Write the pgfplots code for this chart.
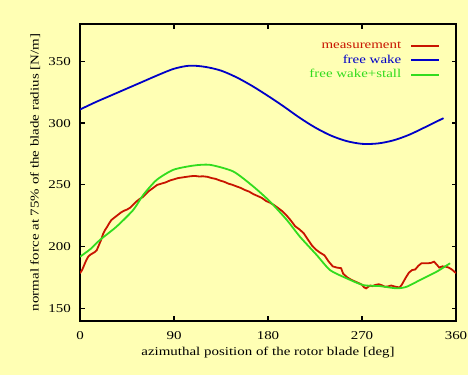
\documentclass[border=0pt]{standalone}
\usepackage{fontspec}
\setmainfont{Liberation Serif}[FakeStretch=1.25]
\usepackage{pgfplots}
\pgfplotsset{compat=1.18}
\definecolor{bg}{RGB}{255,255,180}
\definecolor{mred}{RGB}{200,20,0}
\definecolor{mblue}{RGB}{0,0,200}
\definecolor{mgreen}{RGB}{50,220,30}
\begin{document}
\fontsize{12}{14}\selectfont
\begin{tikzpicture}
\fill[bg] (0,0) rectangle (468bp,375bp);
\path[use as bounding box] (0,0) rectangle (468bp,375bp);
\begin{axis}[
  at={(80bp,54.3bp)}, anchor=south west,
  scale only axis, width=376bp, height=296.4bp,
  xmin=0, xmax=360, ymin=140, ymax=380,
  xtick={0,90,180,270,360}, ytick={150,200,250,300,350},
  tick align=inside, major tick length=4.5bp,
  axis line style={line width=1.6bp},
  every tick/.style={line width=1.2bp, black},
  /pgf/number format/assume math mode=true,
  ticklabel style={font=\fontsize{12}{14}\selectfont},
  label style={font=\fontsize{12}{14}\selectfont},
  xticklabel style={yshift=-7bp},
  yticklabel style={xshift=-5bp},
  xlabel={azimuthal position of the rotor blade [deg]},
  ylabel={normal force at 75\%  of the blade radius [N/m]},
  xlabel style={yshift=1bp},
  ylabel style={yshift=0bp},
  legend style={draw=none, fill=none, at={(0.966,0.955)}, anchor=north east,
    row sep=0.5bp, font=\fontsize{12}{14}\selectfont,
    /tikz/every odd column/.style={column sep=7bp}},
  legend cell align=right, legend plot pos=right,
  legend image code/.code={\draw[#1] plot coordinates {(0bp,0bp) (14bp,0bp) (28bp,0bp)};},
]
\addplot[mred, line width=1.8bp] coordinates {
(0,178.4)(2,181)(4,185)(6,189)(8,192)(10,193.5)(12,194.5)(14,195.5)(16,197)(18,201)
(20,205)(22,210)(24,213.5)(26,216)(28,219)(30,221.5)(33,223.5)(36,225.5)(39,227.5)(42,229)
(45,230)(48,231.5)(51,234)(54,236.5)(57,238.5)(60,240)(63,242.5)(66,245)(70,247.5)(74,250)
(78,251)(82,252)(86,253.5)(90,254.5)(94,255.5)(98,256)(102,256.5)(106,257)(110,257.2)(114,256.8)
(118,256.9)(122,256.5)(126,255.5)(130,254.8)(134,253.5)(138,252.5)(142,251)(146,250)(150,248.7)(154,247.5)
(158,245.8)(162,244.5)(166,242.5)(170,241)(174,239.5)(178,237)(182,235.5)(186,233.5)(190,231)(194,228.5)
(198,225)(202,221)(206,216.5)(210,214)(214,211)(218,206)(222,201)(226,197.5)(230,195)(234,193)
(238,188)(242,184)(246,183)(250,182.5)(252,178)(256,175)(260,173)(264,171.5)(268,170)(270,169)
(272,167)(274,166.2)(276,167.5)(278,168.5)(280,168)(283,169)(286,169.5)(289,168.7)(292,167.5)(295,167.8)
(298,168.5)(300,168)(303,167.3)(306,167)(308,169)(310,172)(312,175)(315,179)(318,181)(321,181.5)
(324,184.5)(327,186.5)(330,186.5)(333,186.5)(336,186.8)(339,187.8)(342,185)(344,183)(347,184)(350,183.8)
(353,183)(356,181.5)(360,178.5)
};
\addlegendentry{\textcolor{mred}{measurement}}
\addplot[mblue, line width=1.8bp, smooth] coordinates {
(0,311)(15,317)(30,322.5)(45,328)(60,333.5)(75,339)(90,344)(105,346.5)(120,345.5)(135,342.5)
(150,337)(165,330)(180,322)(195,313.5)(210,304.5)(225,296.5)(240,290)(255,285.5)(270,283.2)(285,283.5)
(300,286)(315,290.5)(330,296.5)(348,304)
};
\addlegendentry{\textcolor{mblue}{free wake}}
\addplot[mgreen, line width=1.8bp, smooth, tension=0.4] coordinates {
(0,191.8)(10,198)(19.1,205.4)(35,216.2)(51,229.7)(60.6,241.9)(73.4,254)(89.4,262.2)(108.5,265.6)(124.5,266.2)
(146.8,260.8)(166,248.6)(182,236.4)(198,221.6)(210.6,208)(226.6,193.2)(239.4,181)(255.3,174.3)(271.3,168.8)(287.2,168)
(303.2,166.2)(312.8,167.5)(325.5,172.9)(341.5,179.7)(354.3,186.5)
};
\addlegendentry{\textcolor{mgreen}{free wake+stall}}
\end{axis}
\end{tikzpicture}
\end{document}
